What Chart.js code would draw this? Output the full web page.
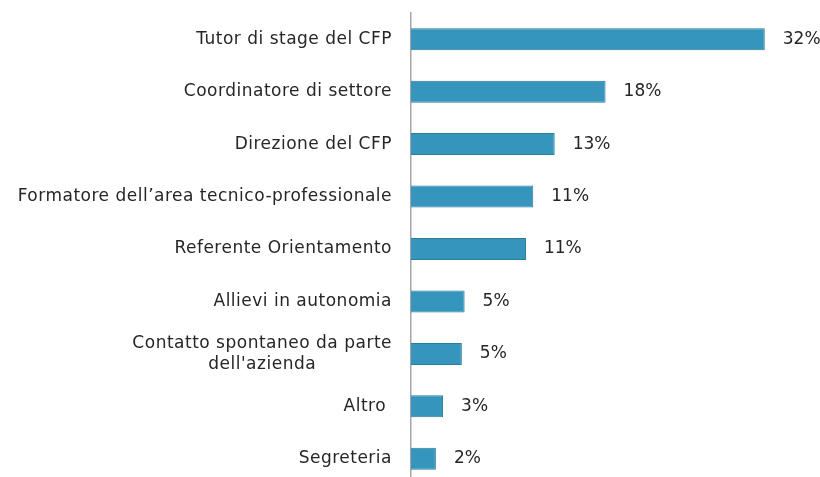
<!DOCTYPE html>
<html>
<head>
<meta charset="utf-8">
<script src="https://cdn.jsdelivr.net/npm/chart.js@4/dist/chart.umd.min.js"></script>
<style>
  html, body { margin: 0; padding: 0; background: #fff; overflow: hidden; }
  #wrap { position: relative; width: 820px; height: 486px; }
</style>
</head>
<body>
<div id="wrap"><canvas id="ctx1"></canvas></div>
<script>
var categories = [
  'Tutor di stage del CFP',
  'Coordinatore di settore',
  'Direzione del CFP',
  'Formatore dell\u2019area tecnico-professionale',
  'Referente Orientamento',
  'Allievi in autonomia',
  ['Contatto spontaneo da parte', "dell'azienda"],
  'Altro ',
  'Segreteria'
];
var values = [32.0, 17.6, 13.0, 11.06, 10.4, 4.85, 4.6, 2.9, 2.25];
var valueLabels = ['32%', '18%', '13%', '11%', '11%', '5%', '5%', '3%', '2%'];

var FONT = '17px "DejaVu Sans", sans-serif';
var TEXT = '#262626';

// category labels, multi-line ones centered under each other
var catLabels = {
  id: 'catLabels',
  afterDraw: function(chart) {
    let c = chart.ctx;
    let y = chart.scales.y;
    c.save();
    c.font = FONT;
    c.letterSpacing = '0.5px';
    c.fillStyle = TEXT;
    c.textBaseline = 'middle';
    c.textAlign = 'center';
    categories.forEach(function(lab, i) {
      let lines = Array.isArray(lab) ? lab : [lab];
      let w = Math.max.apply(null, lines.map(function(l) { return c.measureText(l).width; }));
      let cx = 392 - w / 2;
      let cy = y.getPixelForValue(i);
      let lh = 21;
      lines.forEach(function(l, k) {
        c.fillText(l, cx, cy + (k - (lines.length - 1) / 2) * lh);
      });
    });
    c.restore();
  }
};

var valLabels = {
  id: 'valLabels',
  afterDatasetsDraw: function(chart) {
    let c = chart.ctx;
    let meta = chart.getDatasetMeta(0);
    c.save();
    c.font = FONT;
    c.fillStyle = TEXT;
    c.textBaseline = 'middle';
    c.textAlign = 'left';
    meta.data.forEach(function(bar, i) {
      c.fillText(valueLabels[i], bar.x + 18, bar.y);
    });
    c.restore();
  }
};

new Chart(document.getElementById('ctx1'), {
  type: 'bar',
  plugins: [catLabels, valLabels],
  data: {
    labels: categories,
    datasets: [{
      data: values,
      backgroundColor: '#3595bc',
      borderColor: '#2b7b9c',
      borderWidth: 1,
      barPercentage: 0.42,
      categoryPercentage: 1
    }]
  },
  options: {
    indexAxis: 'y',
    responsive: true,
    maintainAspectRatio: false,
    animation: false,
    layout: { padding: { top: 13, bottom: 1, left: 0, right: 11 } },
    scales: {
      x: {
        display: false,
        min: 0,
        max: 36
      },
      y: {
        afterFit: function(scale) { scale.width = 411; },
        grid: { display: false },
        border: { display: true, color: '#a6a6a6', width: 1.5 },
        ticks: { display: false }
      }
    },
    plugins: {
      legend: { display: false },
      tooltip: { enabled: false }
    }
  }
});
</script>
</body>
</html>
